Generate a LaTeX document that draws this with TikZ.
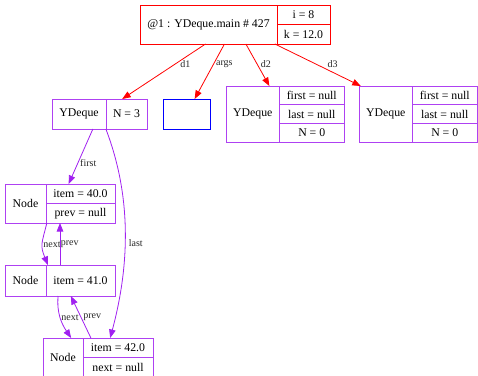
\documentclass[tikz,border=0pt]{standalone}
\usepackage{fontspec}
\setmainfont{Liberation Serif}
\usepackage{xcolor}
\usetikzlibrary{positioning, arrows.meta}
\definecolor{objpurple}{RGB}{160,32,240}
\newcommand{\cellfont}{\fontsize{11.8}{13}\selectfont}
\newcommand{\lblfont}{\fontsize{10}{11}\selectfont}

\begin{document}
\begin{tikzpicture}[
    x=1pt, y=1pt,
    cell/.style={draw, rectangle, inner sep=0pt, outer sep=0pt, line width=0.75pt, font=\cellfont},
    frame/.style={cell, draw=red},
    obj/.style={cell, draw=objpurple!85},
    arr/.style={cell, draw=blue},
    redarrow/.style={-{Triangle[length=8.5pt, width=6.5pt]}, red, line width=0.8pt},
    objarrow/.style={-{Triangle[length=8.5pt, width=6.5pt]}, objpurple, line width=0.8pt},
    elabel/.style={font=\lblfont, text=black!85, inner sep=0.5pt}
]
\useasboundingbox (0,0) rectangle (478,-375);

% Frame: main
\node[frame, minimum width=190pt, minimum height=39pt] (top) at (235,-24.5) {};
\node[frame, minimum width=137pt, minimum height=39pt, anchor=north west] (topa) at (top.north west) {@1 : YDeque.main \# 427};
\node[frame, minimum width=53pt, minimum height=19.5pt, anchor=north west] (topi) at (topa.north east) {i = 8};
\node[frame, minimum width=53pt, minimum height=19.5pt, below=0pt of topi] (topk) {k = 12.0};

% d1: deque with three nodes
\node[obj, minimum width=95pt, minimum height=30pt] (dq1) at (99.5,-114) {};
\node[obj, minimum width=54pt, minimum height=30pt, anchor=north west] (dq1a) at (dq1.north west) {YDeque};
\node[obj, minimum width=41pt, minimum height=30pt, right=0pt of dq1a] (dq1n) {N = 3};

% args: empty array
\node[arr, minimum width=47pt, minimum height=30pt] (args) at (186.5,-114) {};

% d2 and d3: empty deques
\node[obj, minimum width=118pt, minimum height=56pt] (dq2) at (285,-114) {};
\node[obj, minimum width=53.5pt, minimum height=56pt, anchor=north west] (dq2a) at (dq2.north west) {YDeque};
\node[obj, minimum width=64.5pt, minimum height=18.67pt, anchor=north west] (dq2f) at (dq2a.north east) {first = null};
\node[obj, minimum width=64.5pt, minimum height=18.67pt, below=0pt of dq2f] (dq2l) {last = null};
\node[obj, minimum width=64.5pt, minimum height=18.67pt, below=0pt of dq2l] (dq2n) {N = 0};

\node[obj, minimum width=118pt, minimum height=56pt] (dq3) at (418,-114) {};
\node[obj, minimum width=53.5pt, minimum height=56pt, anchor=north west] (dq3a) at (dq3.north west) {YDeque};
\node[obj, minimum width=64.5pt, minimum height=18.67pt, anchor=north west] (dq3f) at (dq3a.north east) {first = null};
\node[obj, minimum width=64.5pt, minimum height=18.67pt, below=0pt of dq3f] (dq3l) {last = null};
\node[obj, minimum width=64.5pt, minimum height=18.67pt, below=0pt of dq3l] (dq3n) {N = 0};

% Linked nodes
\node[obj, minimum width=110pt, minimum height=39pt] (n1) at (60,-203.5) {};
\node[obj, minimum width=41pt, minimum height=39pt, anchor=north west] (n1a) at (n1.north west) {Node};
\node[obj, minimum width=69pt, minimum height=19.5pt, anchor=north west] (n1i) at (n1a.north east) {item = 40.0};
\node[obj, minimum width=69pt, minimum height=19.5pt, below=0pt of n1i] (n1p) {prev = null};

\node[obj, minimum width=110pt, minimum height=31pt] (n2) at (60,-280.5) {};
\node[obj, minimum width=41pt, minimum height=31pt, anchor=north west] (n2a) at (n2.north west) {Node};
\node[obj, minimum width=69pt, minimum height=31pt, right=0pt of n2a] (n2i) {item = 41.0};

\node[obj, minimum width=110pt, minimum height=39pt] (n3) at (98,-357.5) {};
\node[obj, minimum width=40pt, minimum height=39pt, anchor=north west] (n3a) at (n3.north west) {Node};
\node[obj, minimum width=70pt, minimum height=19.5pt, anchor=north west] (n3i) at (n3a.north east) {item = 42.0};
\node[obj, minimum width=70pt, minimum height=19.5pt, below=0pt of n3i] (n3x) {next = null};

% References from the frame
\draw[redarrow] (top) -- node[elabel, pos=0.36, anchor=west, xshift=4pt] {d1} (dq1);
\draw[redarrow] (top) -- node[elabel, pos=0.36, anchor=west, xshift=1.5pt] {args} (args);
\draw[redarrow] (top) -- node[elabel, pos=0.476, anchor=west, xshift=3pt] {d2} (dq2);
\draw[redarrow] (top) -- node[elabel, pos=0.476, anchor=west, xshift=11pt] {d3} (dq3);

% References inside d1
\draw[objarrow] (dq1) -- node[elabel, pos=0.62, anchor=west, xshift=1.5pt] {first} (n1);
\draw[objarrow] (dq1.-67) to[out=-69, in=75, looseness=0.9] node[elabel, pos=0.55, anchor=west, xshift=3pt] {last} (n3.58);
\draw[objarrow] (n1.-124) to[out=-104, in=112, looseness=1.3] node[elabel, pos=0.5, anchor=west] {next} (n2.128);
\draw[objarrow] (n2) -- node[elabel, pos=0.5, anchor=west] {prev} (n1);
\draw[objarrow] (n2.-97) to[out=-95, in=124] node[elabel, pos=0.5, anchor=west] {next} (n3.144);
\draw[objarrow] (n3.110) -- node[elabel, pos=0.5, anchor=west, xshift=1.5pt] {prev} (n2.-55);

\end{tikzpicture}
\end{document}
